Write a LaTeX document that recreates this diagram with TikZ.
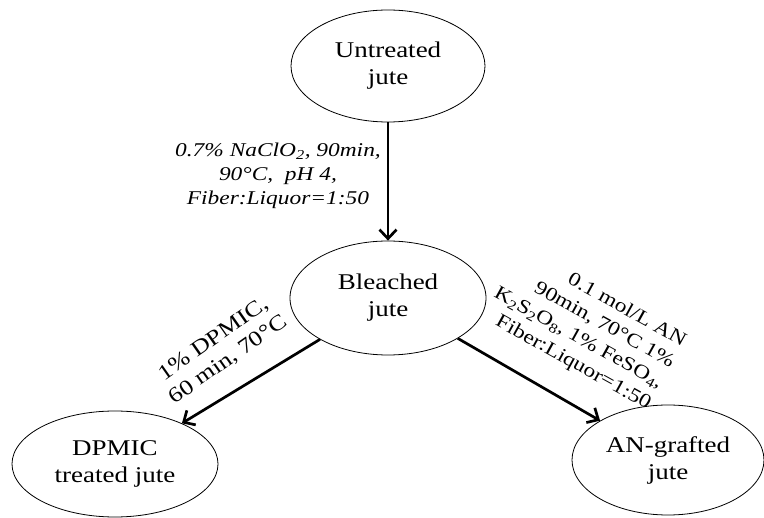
\documentclass[tikz,border=0pt]{standalone}
\usepackage{fontspec}
\setmainfont{Liberation Serif}[FakeStretch=1.2]
\usepackage{tikz}
\usetikzlibrary{arrows.meta,positioning,shapes.geometric}

\tikzset{
  juteNode/.style={draw, ellipse, line width=0.8pt, inner sep=0pt, align=center,
    font=\fontsize{22.5}{27}\selectfont},
  stepArrow/.style={-{Straight Barb[length=9pt,width=17pt]}, line width=2.7pt},
  condLabel/.style={font=\fontsize{19.5}{24}\selectfont, inner sep=0pt}
}

\begin{document}
\begin{tikzpicture}[x=1pt,y=-1pt]
  \useasboundingbox (0,0) rectangle (764,518);

  % Samples
  \node[juteNode, minimum width=194pt, minimum height=112pt] (untreated) at (388,66) {Untreated\\jute};
  \node[juteNode, minimum width=196pt, minimum height=114pt] (bleached) at (388,298) {Bleached\\jute};
  \node[juteNode, minimum width=206pt, minimum height=106pt] (dpmic) at (115,464) {DPMIC\\treated jute};
  \node[juteNode, minimum width=192pt, minimum height=110pt] (angraft) at (668,460) {AN-grafted\\jute};

  % Treatments
  \draw[stepArrow] (untreated) -- (bleached);
  \draw[stepArrow] (bleached) -- (dpmic);
  \draw[stepArrow] (bleached) -- (angraft);

  % Conditions
  \node[condLabel, align=center] (bleachcond) at (278,176)
    {\itshape 0.7\% NaClO\textsubscript{2}, 90min,\\\itshape 90°C,\ \ pH 4,\\\itshape Fiber:Liquor=1:50};
  \node[condLabel, font=\fontsize{21.5}{25}\selectfont, align=center, rotate=35] (dpmiccond) at (221,350)
    {1\% DPMIC,\\60 min, 70°C};
  \node[condLabel, align=right, rotate=-29] (ancond) at (584,328)
    {0.1 mol/L AN\\90min, 70°C 1\%\\K\textsubscript{2}S\textsubscript{2}O\textsubscript{8}, 1\% FeSO\textsubscript{4},\\Fiber:Liquor=1:50};
\end{tikzpicture}
\end{document}
